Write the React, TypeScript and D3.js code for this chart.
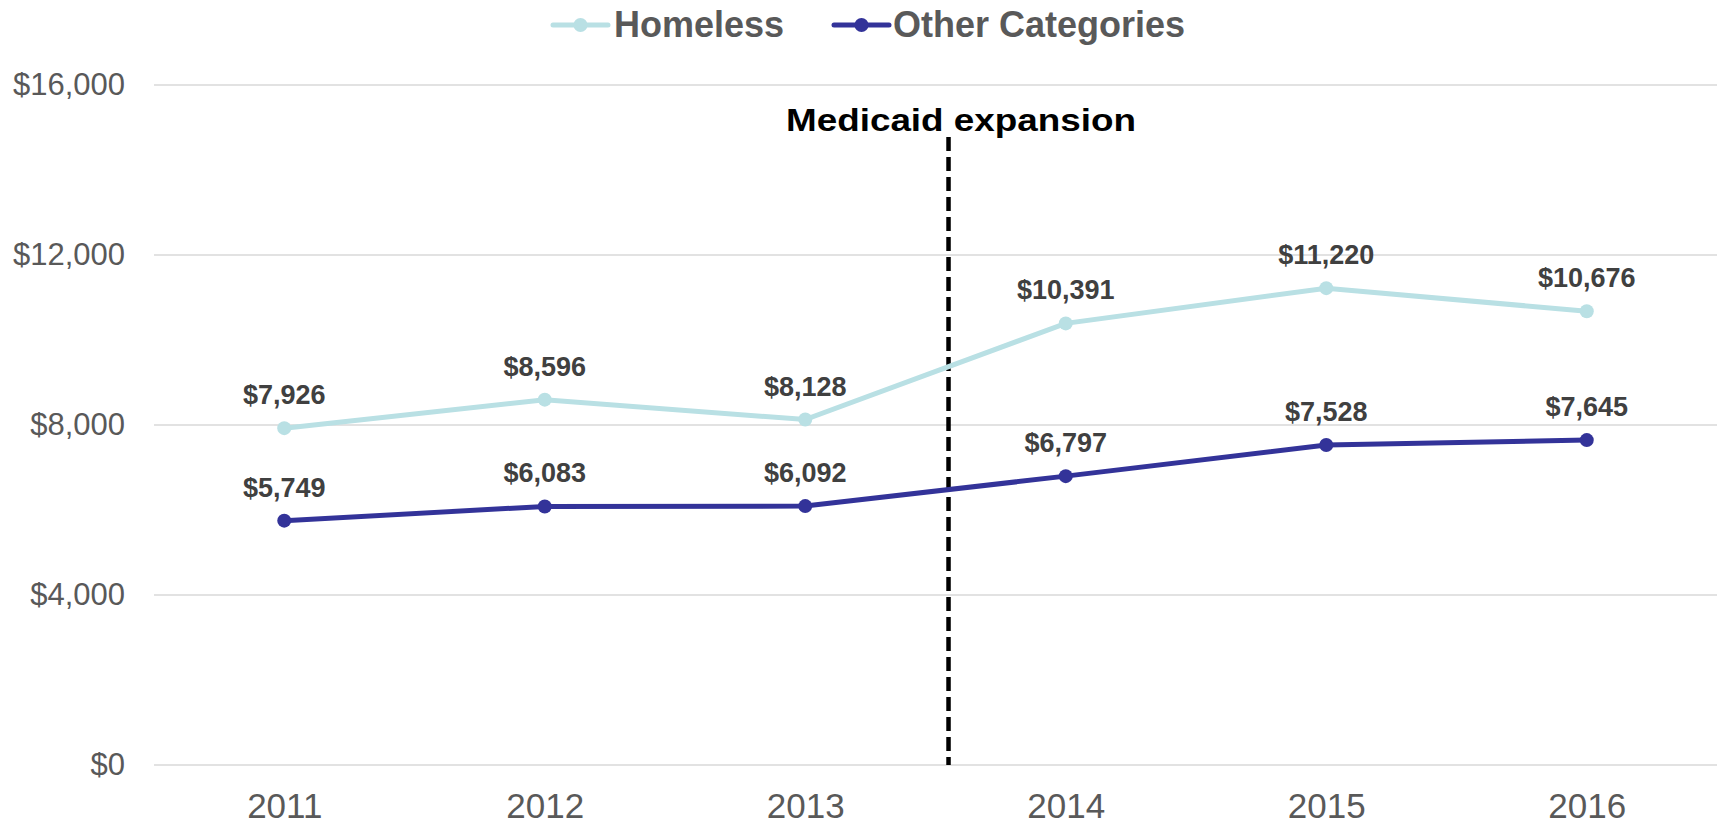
import React, { useRef, useEffect } from 'react';
import * as d3 from 'd3';

const years = ['2011', '2012', '2013', '2014', '2015', '2016'];
const homeless = [7926, 8596, 8128, 10391, 11220, 10676];
const otherCategories = [5749, 6083, 6092, 6797, 7528, 7645];
const yTicks = [0, 4000, 8000, 12000, 16000];

const FONT = '"Liberation Sans", Arial, sans-serif';
const HOMELESS_COLOR = '#B9E0E4';
const OTHER_COLOR = '#333399';

const WIDTH = 1719;
const HEIGHT = 826;
const margin = { top: 85, right: 2, bottom: 61, left: 154 };

const Chart: React.FC = () => {
  const svgRef = useRef<SVGSVGElement | null>(null);

  useEffect(() => {
    if (!svgRef.current) return;
    const svg = d3.select(svgRef.current);
    svg.selectAll('*').remove();

    const x = d3.scalePoint<string>()
      .domain(years)
      .range([margin.left, WIDTH - margin.right])
      .padding(0.5);

    const y = d3.scaleLinear()
      .domain([0, 16000])
      .range([HEIGHT - margin.bottom, margin.top]);

    // gridlines
    svg.append('g')
      .selectAll('line')
      .data(yTicks)
      .join('line')
      .attr('x1', margin.left)
      .attr('x2', WIDTH - margin.right)
      .attr('y1', d => y(d))
      .attr('y2', d => y(d))
      .attr('stroke', '#D9D9D9')
      .attr('stroke-width', 1.5);

    // y axis
    const yAxis = svg.append('g')
      .attr('transform', `translate(${margin.left},0)`)
      .call(d3.axisLeft(y).tickValues(yTicks).tickSize(0).tickPadding(29)
        .tickFormat(d => '$' + d3.format(',')(d as number)));
    yAxis.select('.domain').remove();
    yAxis.selectAll('text')
      .attr('font-family', FONT)
      .attr('font-size', 31)
      .attr('fill', '#595959');

    // x axis (labels kept inside the bottom edge)
    const xAxis = svg.append('g')
      .attr('transform', `translate(0,${y(0)})`)
      .call(d3.axisBottom(x).tickSize(0).tickPadding(28));
    xAxis.select('.domain').remove();
    xAxis.selectAll('text')
      .attr('font-family', FONT)
      .attr('font-size', 35)
      .attr('fill', '#595959');

    // Medicaid expansion marker
    const step = x.step();
    const medX = (x('2013') as number) + step * 0.55;
    svg.append('line')
      .attr('x1', medX)
      .attr('x2', medX)
      .attr('y1', 137)
      .attr('y2', y(0))
      .attr('stroke', '#000')
      .attr('stroke-width', 4.5)
      .attr('stroke-dasharray', '14,6');

    svg.append('text')
      .attr('x', 961)
      .attr('y', 131)
      .attr('text-anchor', 'middle')
      .attr('font-family', FONT)
      .attr('font-weight', 'bold')
      .attr('font-size', 32)
      .attr('textLength', 350)
      .attr('lengthAdjust', 'spacingAndGlyphs')
      .attr('fill', '#000')
      .text('Medicaid expansion');

    const series = [
      { name: 'Homeless', values: homeless, color: HOMELESS_COLOR },
      { name: 'Other Categories', values: otherCategories, color: OTHER_COLOR },
    ];

    const line = d3.line<number>()
      .x((_, i) => x(years[i]) as number)
      .y(d => y(d));

    series.forEach(s => {
      svg.append('path')
        .datum(s.values)
        .attr('d', line)
        .attr('fill', 'none')
        .attr('stroke', s.color)
        .attr('stroke-width', 5);

      svg.append('g')
        .selectAll('circle')
        .data(s.values)
        .join('circle')
        .attr('cx', (_, i) => x(years[i]) as number)
        .attr('cy', d => y(d))
        .attr('r', 7)
        .attr('fill', s.color);

      svg.append('g')
        .selectAll('text')
        .data(s.values)
        .join('text')
        .attr('x', (_, i) => x(years[i]) as number)
        .attr('y', d => y(d) - 24)
        .attr('text-anchor', 'middle')
        .attr('font-family', FONT)
        .attr('font-weight', 'bold')
        .attr('font-size', 27)
        .attr('fill', '#404040')
        .text(d => '$' + d3.format(',')(d));
    });

    // legend
    const legendItems = [
      { ...series[0], x0: 553, textX: 614 },
      { ...series[1], x0: 834, textX: 893 },
    ];
    const legend = svg.append('g');
    legendItems.forEach(item => {
      legend.append('line')
        .attr('x1', item.x0)
        .attr('x2', item.x0 + 55)
        .attr('y1', 25)
        .attr('y2', 25)
        .attr('stroke', item.color)
        .attr('stroke-width', 5)
        .attr('stroke-linecap', 'round');
      legend.append('circle')
        .attr('cx', item.x0 + 27.5)
        .attr('cy', 25)
        .attr('r', 7)
        .attr('fill', item.color);
      legend.append('text')
        .attr('x', item.textX)
        .attr('y', 37)
        .attr('font-family', FONT)
        .attr('font-weight', 'bold')
        .attr('font-size', 36)
        .attr('fill', '#595959')
        .text(item.name);
    });

    return () => {
      d3.select(svgRef.current).selectAll('*').remove();
    };
  }, []);

  return (
    <svg
      ref={svgRef}
      width={WIDTH}
      height={HEIGHT}
      style={{ position: 'absolute', left: 0, top: 0, background: '#fff' }}
    />
  );
};

export default function App() {
  return <Chart />;
}
